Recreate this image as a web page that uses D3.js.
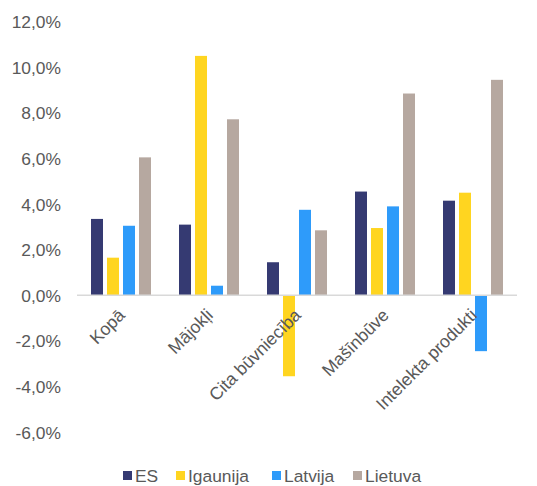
<!DOCTYPE html>
<html><head><meta charset="utf-8">
<script src="https://cdn.jsdelivr.net/npm/d3@7"></script>
<style>
html,body{margin:0;padding:0;background:#fff;}
svg{display:block;font-family:"Liberation Sans",Arial,sans-serif;}
</style></head>
<body><svg id="chart" width="537" height="486"></svg>
<script>
const categories = ["Kopā", "Mājokļi", "Cita būvniecība", "Mašīnbūve", "Intelekta produkti"];
const seriesNames = ["ES", "Igaunija", "Latvija", "Lietuva"];
const ES = [3.35, 3.1, 1.45, 4.55, 4.15];
const Igaunija = [1.65, 10.5, -3.55, 2.95, 4.5];
const Latvija = [3.05, 0.42, 3.75, 3.9, -2.45];
const Lietuva = [6.05, 7.72, 2.85, 8.85, 9.45];
const yTicks = [-6, -4, -2, 0, 2, 4, 6, 8, 10, 12];
const colors = ["#353A72", "#FFD520", "#2E9BFA", "#B6A8A0"];

const values = [ES, Igaunija, Latvija, Lietuva];
const svg = d3.select("#chart");

const y = d3.scaleLinear().domain([-6, 12]).range([432.1, 21.7]);
const x0 = d3.scaleBand().domain(categories).range([77, 517]).paddingInner(0).paddingOuter(0);
const x1 = d3.scaleBand().domain(seriesNames).range([0, 60]).paddingInner(0.25).paddingOuter(0);

// y axis labels
const yAxis = d3.axisLeft(y).tickValues(yTicks).tickSize(0).tickPadding(0)
  .tickFormat(d => d3.format(".1f")(d).replace(".", ",").replace("−", "-") + "%");
const gy = svg.append("g").attr("transform", "translate(61,0)").call(yAxis);
gy.select(".domain").remove();
gy.selectAll("text").attr("fill", "#595959").attr("font-size", "17.4px")
  .attr("font-family", "Liberation Sans, Arial, sans-serif").attr("dy", "0.35em");

// bars
const groups = svg.append("g").selectAll("g").data(categories).join("g")
  .attr("transform", d => `translate(${x0(d) + x0.bandwidth() / 2 - 30},0)`);
groups.selectAll("rect").data((c, ci) => seriesNames.map((s, si) => ({s, si, v: values[si][ci]})))
  .join("rect")
  .attr("x", d => x1(d.s))
  .attr("width", x1.bandwidth())
  .attr("y", d => y(Math.max(0, d.v)))
  .attr("height", d => Math.abs(y(d.v) - y(0)))
  .attr("fill", d => colors[d.si]);

// zero line
svg.append("line").attr("x1", 77).attr("x2", 517).attr("y1", y(0)).attr("y2", y(0))
  .attr("stroke", "#D9D9D9").attr("stroke-width", 1.5);

// category labels
svg.append("g").selectAll("text").data(categories).join("text")
  .attr("transform", d => `translate(${x0(d) + x0.bandwidth() / 2 + 5},${y(0) + 21}) rotate(-45)`)
  .attr("text-anchor", "end")
  .attr("fill", "#595959").attr("font-size", "17.6px")
  .text(d => d);

// legend
const legendX = [123, 176, 272, 353];
const lg = svg.append("g").selectAll("g").data(seriesNames).join("g")
  .attr("transform", (d, i) => `translate(${legendX[i]},470)`);
lg.append("rect").attr("width", 9).attr("height", 9).attr("y", 1).attr("fill", (d, i) => colors[i]);
lg.append("text").attr("x", 12).attr("y", 11.5).attr("fill", "#595959").attr("font-size", "17.4px").text(d => d);
</script></body></html>
